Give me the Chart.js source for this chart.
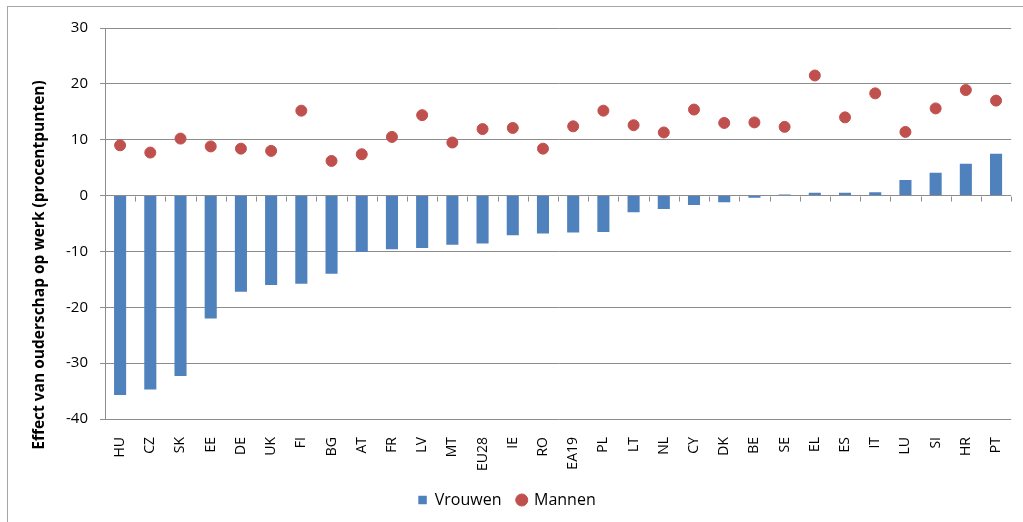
<!DOCTYPE html>
<html>
<head>
<meta charset="utf-8">
<script src="https://cdn.jsdelivr.net/npm/chart.js@4"></script>
<style>
    html, body { margin: 0; padding: 0; background: #fff; }
    #wrap { position: relative; width: 1023px; height: 522px; }
    #frame { position: absolute; left: 7px; top: 6px; width: 1030px; height: 520px; border: 1px solid #a6a6a6; box-sizing: border-box; }
    canvas { position: absolute; left: 0; top: 0; }
</style>
</head>
<body>
<div id="wrap">
    <div id="frame"></div>
    <canvas id="chart" width="1023" height="522"></canvas>
</div>
<script>
const landen = ['HU', 'CZ', 'SK', 'EE', 'DE', 'UK', 'FI', 'BG', 'AT', 'FR', 'LV', 'MT', 'EU28', 'IE', 'RO',
    'EA19', 'PL', 'LT', 'NL', 'CY', 'DK', 'BE', 'SE', 'EL', 'ES', 'IT', 'LU', 'SI', 'HR', 'PT'];
const vrouwen = [-35.7, -34.7, -32.3, -22.0, -17.2, -16.0, -15.8, -14.0, -10.1, -9.6, -9.4, -8.8, -8.6, -7.1, -6.8,
    -6.6, -6.5, -3.0, -2.4, -1.7, -1.2, -0.4, 0.2, 0.5, 0.5, 0.6, 2.8, 4.1, 5.7, 7.5];
const mannen = [9.0, 7.7, 10.2, 8.8, 8.4, 8.0, 15.2, 6.2, 7.4, 10.5, 14.4, 9.5, 11.9, 12.1, 8.4,
    12.4, 15.2, 12.6, 11.3, 15.4, 13.0, 13.1, 12.3, 21.5, 14.0, 18.3, 11.4, 15.6, 18.9, 17.0];
const yTicks = [30, 20, 10, 0, -10, -20, -30, -40];
const yTitel = 'Effect van ouderschap op werk (procentpunten)';

const fontFamily = "'Open Sans', 'Liberation Sans', sans-serif";

// small tick marks on the zero line between categories
const zeroTicks = {
    id: 'zeroTicks',
    afterDatasetsDraw(chart) {
        const ctx = chart.ctx;
        const x = chart.scales.x;
        const y0 = Math.round(chart.scales.y.getPixelForValue(0)) + 0.5;
        ctx.save();
        ctx.strokeStyle = '#8c8c8c';
        ctx.lineWidth = 1;
        ctx.beginPath();
        for (let i = 0; i <= landen.length; i++) {
            const px = Math.round(x.getPixelForValue(i - 0.5)) + 0.5;
            ctx.moveTo(px, y0);
            ctx.lineTo(px, y0 + 5);
        }
        ctx.stroke();
        ctx.restore();
    }
};

// y axis title, placed like the original (a bit below the middle)
const yTitle = {
    id: 'yTitle',
    afterDraw(chart) {
        const ctx = chart.ctx;
        ctx.save();
        ctx.translate(40, 265);
        ctx.rotate(-Math.PI / 2);
        ctx.font = 'bold 15.5px ' + fontFamily;
        ctx.fillStyle = '#000';
        ctx.textAlign = 'center';
        ctx.textBaseline = 'middle';
        ctx.fillText(yTitel, 0, 0);
        ctx.restore();
    }
};

new Chart(document.getElementById('chart').getContext('2d'), {
    data: {
        labels: landen,
        datasets: [
            {
                type: 'bar',
                label: 'Vrouwen',
                data: vrouwen,
                backgroundColor: '#4f81bd',
                borderWidth: 0,
                barPercentage: 0.4,
                categoryPercentage: 1,
                pointStyle: 'rect',
                order: 2
            },
            {
                type: 'line',
                label: 'Mannen',
                data: mannen,
                showLine: false,
                pointRadius: 5.5,
                pointBackgroundColor: '#c0504d',
                pointBorderColor: '#c0504d',
                backgroundColor: '#c0504d',
                borderColor: '#c0504d',
                pointStyle: 'circle',
                order: 1
            }
        ]
    },
    options: {
        responsive: false,
        animation: false,
        layout: { padding: { left: 0, right: 9, top: 28, bottom: 4 } },
        plugins: {
            tooltip: { enabled: false },
            legend: {
                position: 'bottom',
                labels: {
                    usePointStyle: true,
                    boxWidth: 8.5,
                    boxHeight: 8.5,
                    padding: 16,
                    color: '#000',
                    font: { family: fontFamily, size: 16 },
                    sort: (a, b) => a.datasetIndex - b.datasetIndex
                }
            }
        },
        scales: {
            x: {
                offset: true,
                grid: { display: false },
                border: { display: false },
                ticks: {
                    minRotation: 90,
                    maxRotation: 90,
                    autoSkip: false,
                    padding: 10,
                    color: '#000',
                    font: { family: fontFamily, size: 14 }
                },
                afterFit(scale) { scale.height = 57; }
            },
            y: {
                min: -40,
                max: 30,
                afterBuildTicks(scale) { scale.ticks = yTicks.map(v => ({ value: v })); },
                grid: { color: '#8c8c8c', tickLength: 5, lineWidth: 1 },
                border: { color: '#8c8c8c' },
                ticks: {
                    color: '#000',
                    padding: 12,
                    font: { family: fontFamily, size: 15 }
                },
                afterFit(scale) { scale.width = 105; }
            }
        }
    },
    plugins: [zeroTicks, yTitle]
});
</script>
</body>
</html>
